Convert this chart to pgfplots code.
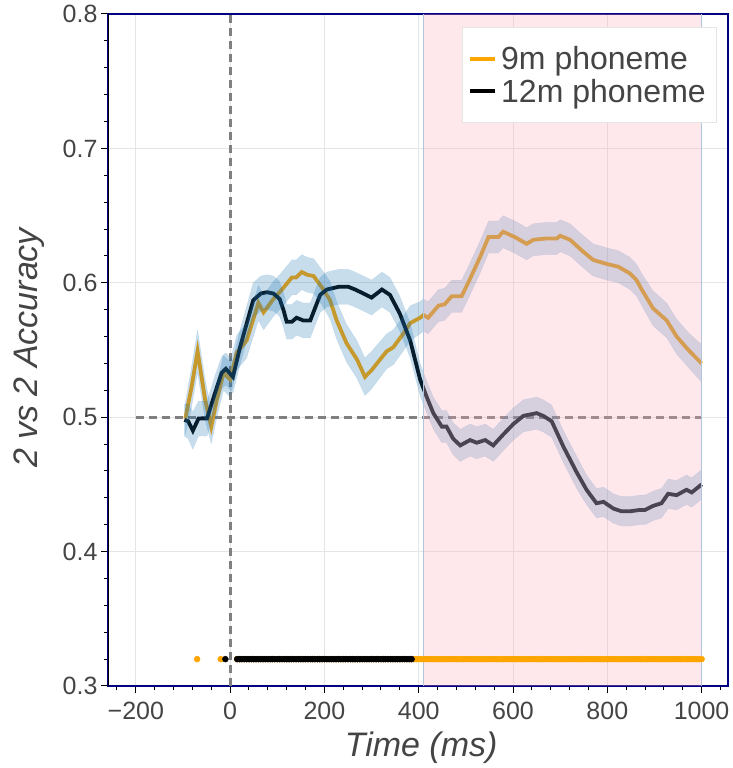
\documentclass[border=0pt]{standalone}
\usepackage{fontspec}
\setmainfont{Liberation Sans}
\usepackage{pgfplots}
\usepackage{pgfplotstable}
\pgfplotsset{compat=1.18}
\usepgfplotslibrary{fillbetween}

\definecolor{orng}{RGB}{255,165,0}
\definecolor{bandblue}{RGB}{31,119,180}
\definecolor{shade}{RGB}{255,170,185}
\definecolor{frame}{RGB}{0,0,128}
\definecolor{txt}{RGB}{68,68,68}
\definecolor{gridc}{RGB}{229,229,229}
\definecolor{edgec}{RGB}{176,196,222}
\definecolor{dashc}{RGB}{128,128,128}

% 9m phoneme: time, mean accuracy, half width of the band
\pgfplotstableread{
x y e
-95 0.499 0.012
-82 0.522 0.015
-69 0.549 0.016
-53 0.513 0.015
-40 0.493 0.013
-28 0.513 0.013
-14 0.533 0.013
0 0.528 0.013
14 0.548 0.013
35 0.557 0.013
60 0.585 0.013
71 0.578 0.013
92 0.588 0.013
110 0.595 0.013
131 0.604 0.013
140 0.604 0.013
152 0.608 0.013
163 0.606 0.013
177 0.605 0.013
194 0.597 0.013
212 0.587 0.014
226 0.572 0.014
247 0.555 0.014
269 0.543 0.014
286 0.530 0.014
300 0.535 0.014
332 0.549 0.013
346 0.552 0.013
367 0.562 0.013
382 0.570 0.013
403 0.574 0.012
410 0.576 0.012
420 0.574 0.012
442 0.583 0.012
455 0.584 0.012
470 0.590 0.012
491 0.590 0.012
509 0.603 0.012
530 0.619 0.012
548 0.634 0.012
569 0.634 0.012
579 0.638 0.012
604 0.634 0.012
629 0.629 0.012
643 0.632 0.012
671 0.633 0.012
693 0.633 0.012
700 0.635 0.012
721 0.632 0.012
746 0.624 0.012
770 0.617 0.012
799 0.614 0.012
823 0.612 0.012
848 0.607 0.012
862 0.602 0.012
873 0.595 0.012
897 0.581 0.013
926 0.572 0.013
947 0.560 0.013
972 0.550 0.013
1000 0.540 0.014
}\nine

% 12m phoneme
\pgfplotstableread{
x y e
-97 0.498 0.012
-89 0.497 0.013
-79 0.490 0.014
-67 0.499 0.013
-49 0.499 0.013
-32 0.518 0.013
-18 0.533 0.012
-9 0.536 0.012
6 0.530 0.012
21 0.552 0.013
49 0.587 0.013
65 0.592 0.013
78 0.593 0.013
92 0.592 0.013
105 0.588 0.013
113 0.580 0.013
120 0.571 0.013
131 0.571 0.013
141 0.574 0.013
155 0.572 0.013
170 0.572 0.013
191 0.591 0.013
205 0.595 0.013
230 0.597 0.013
240 0.597 0.013
251 0.597 0.013
265 0.595 0.013
283 0.592 0.013
300 0.589 0.013
322 0.595 0.013
339 0.591 0.013
360 0.577 0.013
382 0.557 0.013
403 0.528 0.012
417 0.515 0.012
431 0.503 0.012
449 0.493 0.012
459 0.493 0.012
473 0.484 0.012
488 0.479 0.012
509 0.483 0.012
523 0.481 0.012
541 0.483 0.012
558 0.479 0.012
579 0.487 0.012
601 0.495 0.012
622 0.501 0.012
650 0.503 0.012
664 0.501 0.012
682 0.497 0.012
707 0.478 0.012
735 0.459 0.012
756 0.446 0.011
777 0.436 0.011
792 0.437 0.011
813 0.432 0.011
830 0.430 0.011
848 0.430 0.011
869 0.431 0.011
880 0.431 0.011
897 0.434 0.011
915 0.436 0.011
929 0.443 0.011
947 0.442 0.011
968 0.446 0.011
979 0.444 0.011
1000 0.450 0.011
}\twelve

\begin{document}
\begin{tikzpicture}
\begin{axis}[
    set layers,
    fill between/on layer=main,
    scale only axis,
    width=620pt, height=672pt,
    xmin=-259, xmax=1056,
    ymin=0.3, ymax=0.8,
    xtick={-200,0,200,400,600,800,1000},
    xticklabels={−200,0,200,400,600,800,1000},
    ytick={0.3,0.4,0.5,0.6,0.7,0.8},
    yticklabels={0.3,0.4,0.5,0.6,0.7,0.8},
    minor xtick={-240,-160,-120,-80,-40,40,80,120,160,240,280,320,360,440,480,520,560,640,680,720,760,840,880,920,960,1040},
    minor ytick={0.32,0.34,0.36,0.38,0.42,0.44,0.46,0.48,0.52,0.54,0.56,0.58,0.62,0.64,0.66,0.68,0.72,0.74,0.76,0.78},
    tick align=outside,
    xtick pos=bottom, ytick pos=left,
    major tick length=7pt, minor tick length=4pt,
    tick style={black, line width=1pt},
    xmajorgrids=true, ymajorgrids=true,
    major grid style={gridc, line width=1pt},
    axis line style={frame, line width=1.5pt},
    ticklabel style={font=\fontsize{25}{30}\selectfont, text=txt},
    xticklabel style={yshift=-6pt},
    xlabel={Time (ms)},
    ylabel={2 vs 2 Accuracy},
    label style={font=\fontsize{34}{40}\selectfont\itshape, text=txt},
    xlabel style={at={(axis description cs:0.505,-0.0923)}, anchor=center},
    ylabel style={at={(axis description cs:-0.127,0.503)}, anchor=center},
    legend style={at={(axis description cs:0.9806,0.9807)}, anchor=north east,
        draw=gridc, fill=white, font=\fontsize{32}{36}\selectfont, text=txt,
        inner xsep=6pt, inner ysep=16pt, row sep=2pt,
        nodes={inner ysep=3pt, inner xsep=4pt}, cells={anchor=west}},
    legend image code/.code={\draw[#1] (0pt,0pt) -- (25pt,0pt);},
]
\addlegendimage{orng, line width=4pt}
\addlegendentry{9m phoneme}
\addlegendimage{black, line width=4pt}
\addlegendentry{12m phoneme}

% chance level and stimulus onset
\addplot[dashc, line width=3pt, dash pattern=on 8pt off 5pt, forget plot]
    coordinates {(-200,0.5) (1000,0.5)};
\addplot[dashc, line width=3pt, dash pattern=on 8pt off 5pt, forget plot]
    coordinates {(0,0.3) (0,0.8)};

% mean curves
\addplot[orng, line width=3.8pt, forget plot] table[x=x, y=y] {\nine};
\addplot[black, line width=3.8pt, forget plot] table[x=x, y=y] {\twelve};

% bands, drawn over the curves
\addplot[draw=none, name path=nu, forget plot] table[x=x, y expr=\thisrow{y}+\thisrow{e}] {\nine};
\addplot[draw=none, name path=nl, forget plot] table[x=x, y expr=\thisrow{y}-\thisrow{e}] {\nine};
\addplot[fill=bandblue, fill opacity=0.25, draw=bandblue, draw opacity=0.12, forget plot] fill between[of=nu and nl];
\addplot[draw=none, name path=tu, forget plot] table[x=x, y expr=\thisrow{y}+\thisrow{e}] {\twelve};
\addplot[draw=none, name path=tl, forget plot] table[x=x, y expr=\thisrow{y}-\thisrow{e}] {\twelve};
\addplot[fill=bandblue, fill opacity=0.25, draw=bandblue, draw opacity=0.12, forget plot] fill between[of=tu and tl];

% shaded window, drawn over everything above
\addplot[draw=none, fill=shade, fill opacity=0.27, forget plot]
    coordinates {(410,0.3) (410,0.8) (1000,0.8) (1000,0.3)} -- cycle;
\addplot[edgec, line width=1.2pt, forget plot] coordinates {(410,0.3) (410,0.8)};
\addplot[edgec, line width=1.2pt, forget plot] coordinates {(1000,0.3) (1000,0.8)};

% significance markers
\addplot[only marks, mark=*, mark size=3pt, orng, mark options={draw=orng, fill=orng}, forget plot] coordinates {
(-70,0.32)(-20,0.32)
(15,0.32)(20,0.32)(25,0.32)(30,0.32)(35,0.32)(40,0.32)(45,0.32)(50,0.32)(55,0.32)(60,0.32)
(65,0.32)(70,0.32)(75,0.32)(80,0.32)(85,0.32)(90,0.32)(95,0.32)(100,0.32)(105,0.32)(110,0.32)
(115,0.32)(120,0.32)(125,0.32)(130,0.32)(135,0.32)(140,0.32)(145,0.32)(150,0.32)(155,0.32)(160,0.32)
(165,0.32)(170,0.32)(175,0.32)(180,0.32)(185,0.32)(190,0.32)(195,0.32)(200,0.32)(205,0.32)(210,0.32)
(215,0.32)(220,0.32)(225,0.32)(230,0.32)(235,0.32)(240,0.32)(245,0.32)(250,0.32)(255,0.32)(260,0.32)
(265,0.32)(270,0.32)(275,0.32)(280,0.32)(285,0.32)(290,0.32)(295,0.32)(300,0.32)(305,0.32)(310,0.32)
(315,0.32)(320,0.32)(325,0.32)(330,0.32)(335,0.32)(340,0.32)(345,0.32)(350,0.32)(355,0.32)(360,0.32)
(365,0.32)(370,0.32)(375,0.32)(380,0.32)(385,0.32)(390,0.32)(395,0.32)(400,0.32)(405,0.32)(410,0.32)
(415,0.32)(420,0.32)(425,0.32)(430,0.32)(435,0.32)(440,0.32)(445,0.32)(450,0.32)(455,0.32)(460,0.32)
(465,0.32)(470,0.32)(475,0.32)(480,0.32)(485,0.32)(490,0.32)(495,0.32)(500,0.32)(505,0.32)(510,0.32)
(515,0.32)(520,0.32)(525,0.32)(530,0.32)(535,0.32)(540,0.32)(545,0.32)(550,0.32)(555,0.32)(560,0.32)
(565,0.32)(570,0.32)(575,0.32)(580,0.32)(585,0.32)(590,0.32)(595,0.32)(600,0.32)(605,0.32)(610,0.32)
(615,0.32)(620,0.32)(625,0.32)(630,0.32)(635,0.32)(640,0.32)(645,0.32)(650,0.32)(655,0.32)(660,0.32)
(665,0.32)(670,0.32)(675,0.32)(680,0.32)(685,0.32)(690,0.32)(695,0.32)(700,0.32)(705,0.32)(710,0.32)
(715,0.32)(720,0.32)(725,0.32)(730,0.32)(735,0.32)(740,0.32)(745,0.32)(750,0.32)(755,0.32)(760,0.32)
(765,0.32)(770,0.32)(775,0.32)(780,0.32)(785,0.32)(790,0.32)(795,0.32)(800,0.32)(805,0.32)(810,0.32)
(815,0.32)(820,0.32)(825,0.32)(830,0.32)(835,0.32)(840,0.32)(845,0.32)(850,0.32)(855,0.32)(860,0.32)
(865,0.32)(870,0.32)(875,0.32)(880,0.32)(885,0.32)(890,0.32)(895,0.32)(900,0.32)(905,0.32)(910,0.32)
(915,0.32)(920,0.32)(925,0.32)(930,0.32)(935,0.32)(940,0.32)(945,0.32)(950,0.32)(955,0.32)(960,0.32)
(965,0.32)(970,0.32)(975,0.32)(980,0.32)(985,0.32)(990,0.32)(995,0.32)(1000,0.32)
};
\addplot[only marks, mark=*, mark size=3pt, black, mark options={draw=black, fill=black}, forget plot] coordinates {
(-10,0.32)
(15,0.32)(20,0.32)(25,0.32)(30,0.32)(35,0.32)(40,0.32)(45,0.32)(50,0.32)(55,0.32)(60,0.32)
(65,0.32)(70,0.32)(75,0.32)(80,0.32)(85,0.32)(90,0.32)(95,0.32)(100,0.32)(105,0.32)(110,0.32)
(115,0.32)(120,0.32)(125,0.32)(130,0.32)(135,0.32)(140,0.32)(145,0.32)(150,0.32)(155,0.32)(160,0.32)
(165,0.32)(170,0.32)(175,0.32)(180,0.32)(185,0.32)(190,0.32)(195,0.32)(200,0.32)(205,0.32)(210,0.32)
(215,0.32)(220,0.32)(225,0.32)(230,0.32)(235,0.32)(240,0.32)(245,0.32)(250,0.32)(255,0.32)(260,0.32)
(265,0.32)(270,0.32)(275,0.32)(280,0.32)(285,0.32)(290,0.32)(295,0.32)(300,0.32)(305,0.32)(310,0.32)
(315,0.32)(320,0.32)(325,0.32)(330,0.32)(335,0.32)(340,0.32)(345,0.32)(350,0.32)(355,0.32)(360,0.32)
(365,0.32)(370,0.32)(375,0.32)(380,0.32)(385,0.32)
};

\draw[black, line width=2pt] (rel axis cs:0,0) -- (rel axis cs:0,1);
\end{axis}
\pgfresetboundingbox
\path[use as bounding box] ([shift={(-108pt,-82pt)}]current axis.south west)
    rectangle ([shift={(5pt,14pt)}]current axis.north east);
\end{tikzpicture}
\end{document}
